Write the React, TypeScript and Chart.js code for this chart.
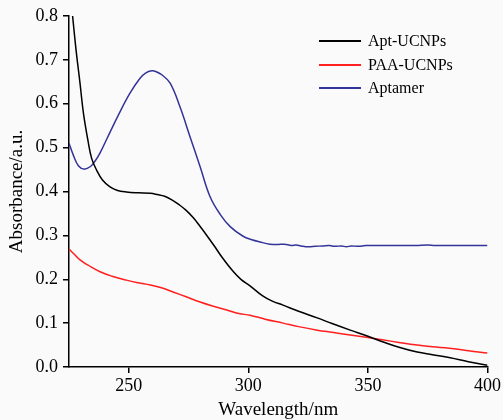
import React, { useEffect, useRef } from "react";
import { Chart, registerables } from "chart.js";

Chart.register(...registerables);

const aptWavelength = [226.5, 228, 229.6, 231, 232.9, 234.5, 236.7, 239, 242, 245, 249, 254, 259, 262, 265, 268, 271, 274, 277, 280, 283, 286, 289, 293.6, 297, 300.7, 306, 310, 314.5, 321, 328.8, 335, 342.6, 350, 356.4, 363, 370.6, 377, 384.4, 392, 400];
const aptValues = [0.8, 0.72, 0.647, 0.58, 0.517, 0.475, 0.447, 0.426, 0.411, 0.403, 0.399, 0.397, 0.396, 0.393, 0.389, 0.381, 0.37, 0.357, 0.34, 0.319, 0.297, 0.274, 0.25, 0.218, 0.199, 0.185, 0.162, 0.15, 0.141, 0.127, 0.112, 0.099, 0.084, 0.07, 0.057, 0.045, 0.034, 0.028, 0.021, 0.012, 0.004];

const paaWavelength = [225, 227, 229.6, 233, 238, 243, 249, 254, 259, 264, 268.5, 274, 279.8, 285, 291, 296, 300.7, 307, 314.5, 321, 328.8, 335, 342.6, 350, 356, 363, 370.6, 377, 384, 392, 400];
const paaValues = [0.269, 0.258, 0.244, 0.232, 0.217, 0.207, 0.198, 0.192, 0.187, 0.18, 0.171, 0.16, 0.148, 0.139, 0.13, 0.122, 0.118, 0.109, 0.1, 0.092, 0.084, 0.079, 0.073, 0.067, 0.062, 0.056, 0.05, 0.046, 0.043, 0.037, 0.032];

const aptamerWavelength = [225, 227, 229, 231.3, 234, 236, 238, 241, 246, 250.5, 254.7, 257, 259.6, 261.5, 263.8, 267.3, 271.4, 275.6, 279.8, 284, 288.2, 292.4, 297.8, 301.5, 304.9, 309, 312, 315, 318, 320, 322, 325, 328, 331, 334, 336, 339, 341, 343, 346, 349, 352, 360, 370, 375, 378, 385, 400];
const aptamerValues = [0.51, 0.48, 0.458, 0.451, 0.457, 0.47, 0.488, 0.522, 0.578, 0.624, 0.658, 0.670, 0.675, 0.673, 0.666, 0.647, 0.593, 0.525, 0.457, 0.388, 0.348, 0.320, 0.298, 0.290, 0.285, 0.280, 0.279, 0.28, 0.277, 0.278, 0.276, 0.274, 0.275, 0.276, 0.277, 0.275, 0.276, 0.274, 0.276, 0.275, 0.277, 0.277, 0.277, 0.277, 0.278, 0.277, 0.277, 0.277];

const seriesNames = ["Apt-UCNPs", "PAA-UCNPs", "Aptamer"];
const seriesColors = ["#000000", "#ff1f1f", "#33339a"];
const xTickValues = [250, 300, 350, 400];
const xTitle = "Wavelength/nm";
const yTitle = "Absorbance/a.u.";

const FONT = "'Liberation Serif', 'Times New Roman', serif";

function toPoints(xs: number[], ys: number[]) {
  return xs.map((x, i) => ({ x, y: ys[i] }));
}

export default function App() {
  const ref = useRef<HTMLCanvasElement | null>(null);

  useEffect(() => {
    if (!ref.current) return;
    Chart.defaults.font.family = FONT;
    Chart.defaults.color = "#000";

    const bgPlugin = {
      id: "bg",
      beforeDraw(chart: any) {
        const ctx = chart.ctx;
        ctx.save();
        ctx.fillStyle = "#fafafa";
        ctx.fillRect(0, 0, chart.width, chart.height);
        ctx.restore();
      },
    };

    const legendPlugin = {
      id: "customLegend",
      afterDraw(chart: any) {
        const ctx = chart.ctx;
        const ys = [41, 65, 88];
        ctx.save();
        ctx.font = `16px ${FONT}`;
        ctx.textBaseline = "middle";
        ctx.textAlign = "left";
        seriesNames.forEach((name, i) => {
          ctx.strokeStyle = seriesColors[i];
          ctx.lineWidth = 2;
          ctx.beginPath();
          ctx.moveTo(319, ys[i]);
          ctx.lineTo(361, ys[i]);
          ctx.stroke();
          ctx.fillStyle = "#000";
          ctx.fillText(name, 368, ys[i] + 1);
        });
        ctx.restore();
      },
    };

    const datasets = [
      { label: seriesNames[0], data: toPoints(aptWavelength, aptValues), borderColor: seriesColors[0] },
      { label: seriesNames[1], data: toPoints(paaWavelength, paaValues), borderColor: seriesColors[1] },
      { label: seriesNames[2], data: toPoints(aptamerWavelength, aptamerValues), borderColor: seriesColors[2] },
    ].map((d) => ({
      ...d,
      borderWidth: 1.5,
      pointRadius: 0,
      fill: false,
      tension: 0.4,
    }));

    const chart = new Chart(ref.current, {
      type: "line",
      data: { datasets },
      plugins: [bgPlugin, legendPlugin],
      options: {
        animation: false,
        responsive: false,
        maintainAspectRatio: false,
        layout: { padding: { top: 16, right: 15, bottom: 0, left: 0 } },
        plugins: { legend: { display: false }, tooltip: { enabled: false } },
        scales: {
          x: {
            type: "linear",
            min: 225,
            max: 400,
            afterBuildTicks(scale: any) {
              scale.ticks = xTickValues.map((v) => ({ value: v }));
            },
            afterFit(scale: any) {
              scale.height = 53;
            },
            grid: { display: true, drawOnChartArea: false, drawTicks: true, tickLength: 6, color: "#000", lineWidth: 1.5 },
            border: { display: true, color: "#000", width: 1.5 },
            ticks: { font: { size: 18, family: FONT }, color: "#000", padding: 2, maxRotation: 0 },
            title: { display: true, text: xTitle, font: { size: 19, family: FONT, lineHeight: 1 }, color: "#000", padding: { top: 0, bottom: 0 } },
          },
          y: {
            type: "linear",
            min: 0,
            max: 0.8,
            afterFit(scale: any) {
              scale.width = 69;
            },
            grid: { display: true, drawOnChartArea: false, drawTicks: true, tickLength: 6, color: "#000", lineWidth: 1.5 },
            border: { display: true, color: "#000", width: 1.5 },
            ticks: { stepSize: 0.1, font: { size: 18, family: FONT }, color: "#000", padding: 5, callback: (v: any) => Number(v).toFixed(1) },
            title: { display: true, text: yTitle, font: { size: 19, family: FONT, lineHeight: 1 }, color: "#000", padding: { top: 8, bottom: 0 } },
          },
        },
      },
    });
    return () => chart.destroy();
  }, []);

  return (
    <div style={{ position: "fixed", left: 0, top: 0, width: 503, height: 420 }}>
      <canvas ref={ref} width={503} height={420} style={{ width: 503, height: 420 }} />
    </div>
  );
}
